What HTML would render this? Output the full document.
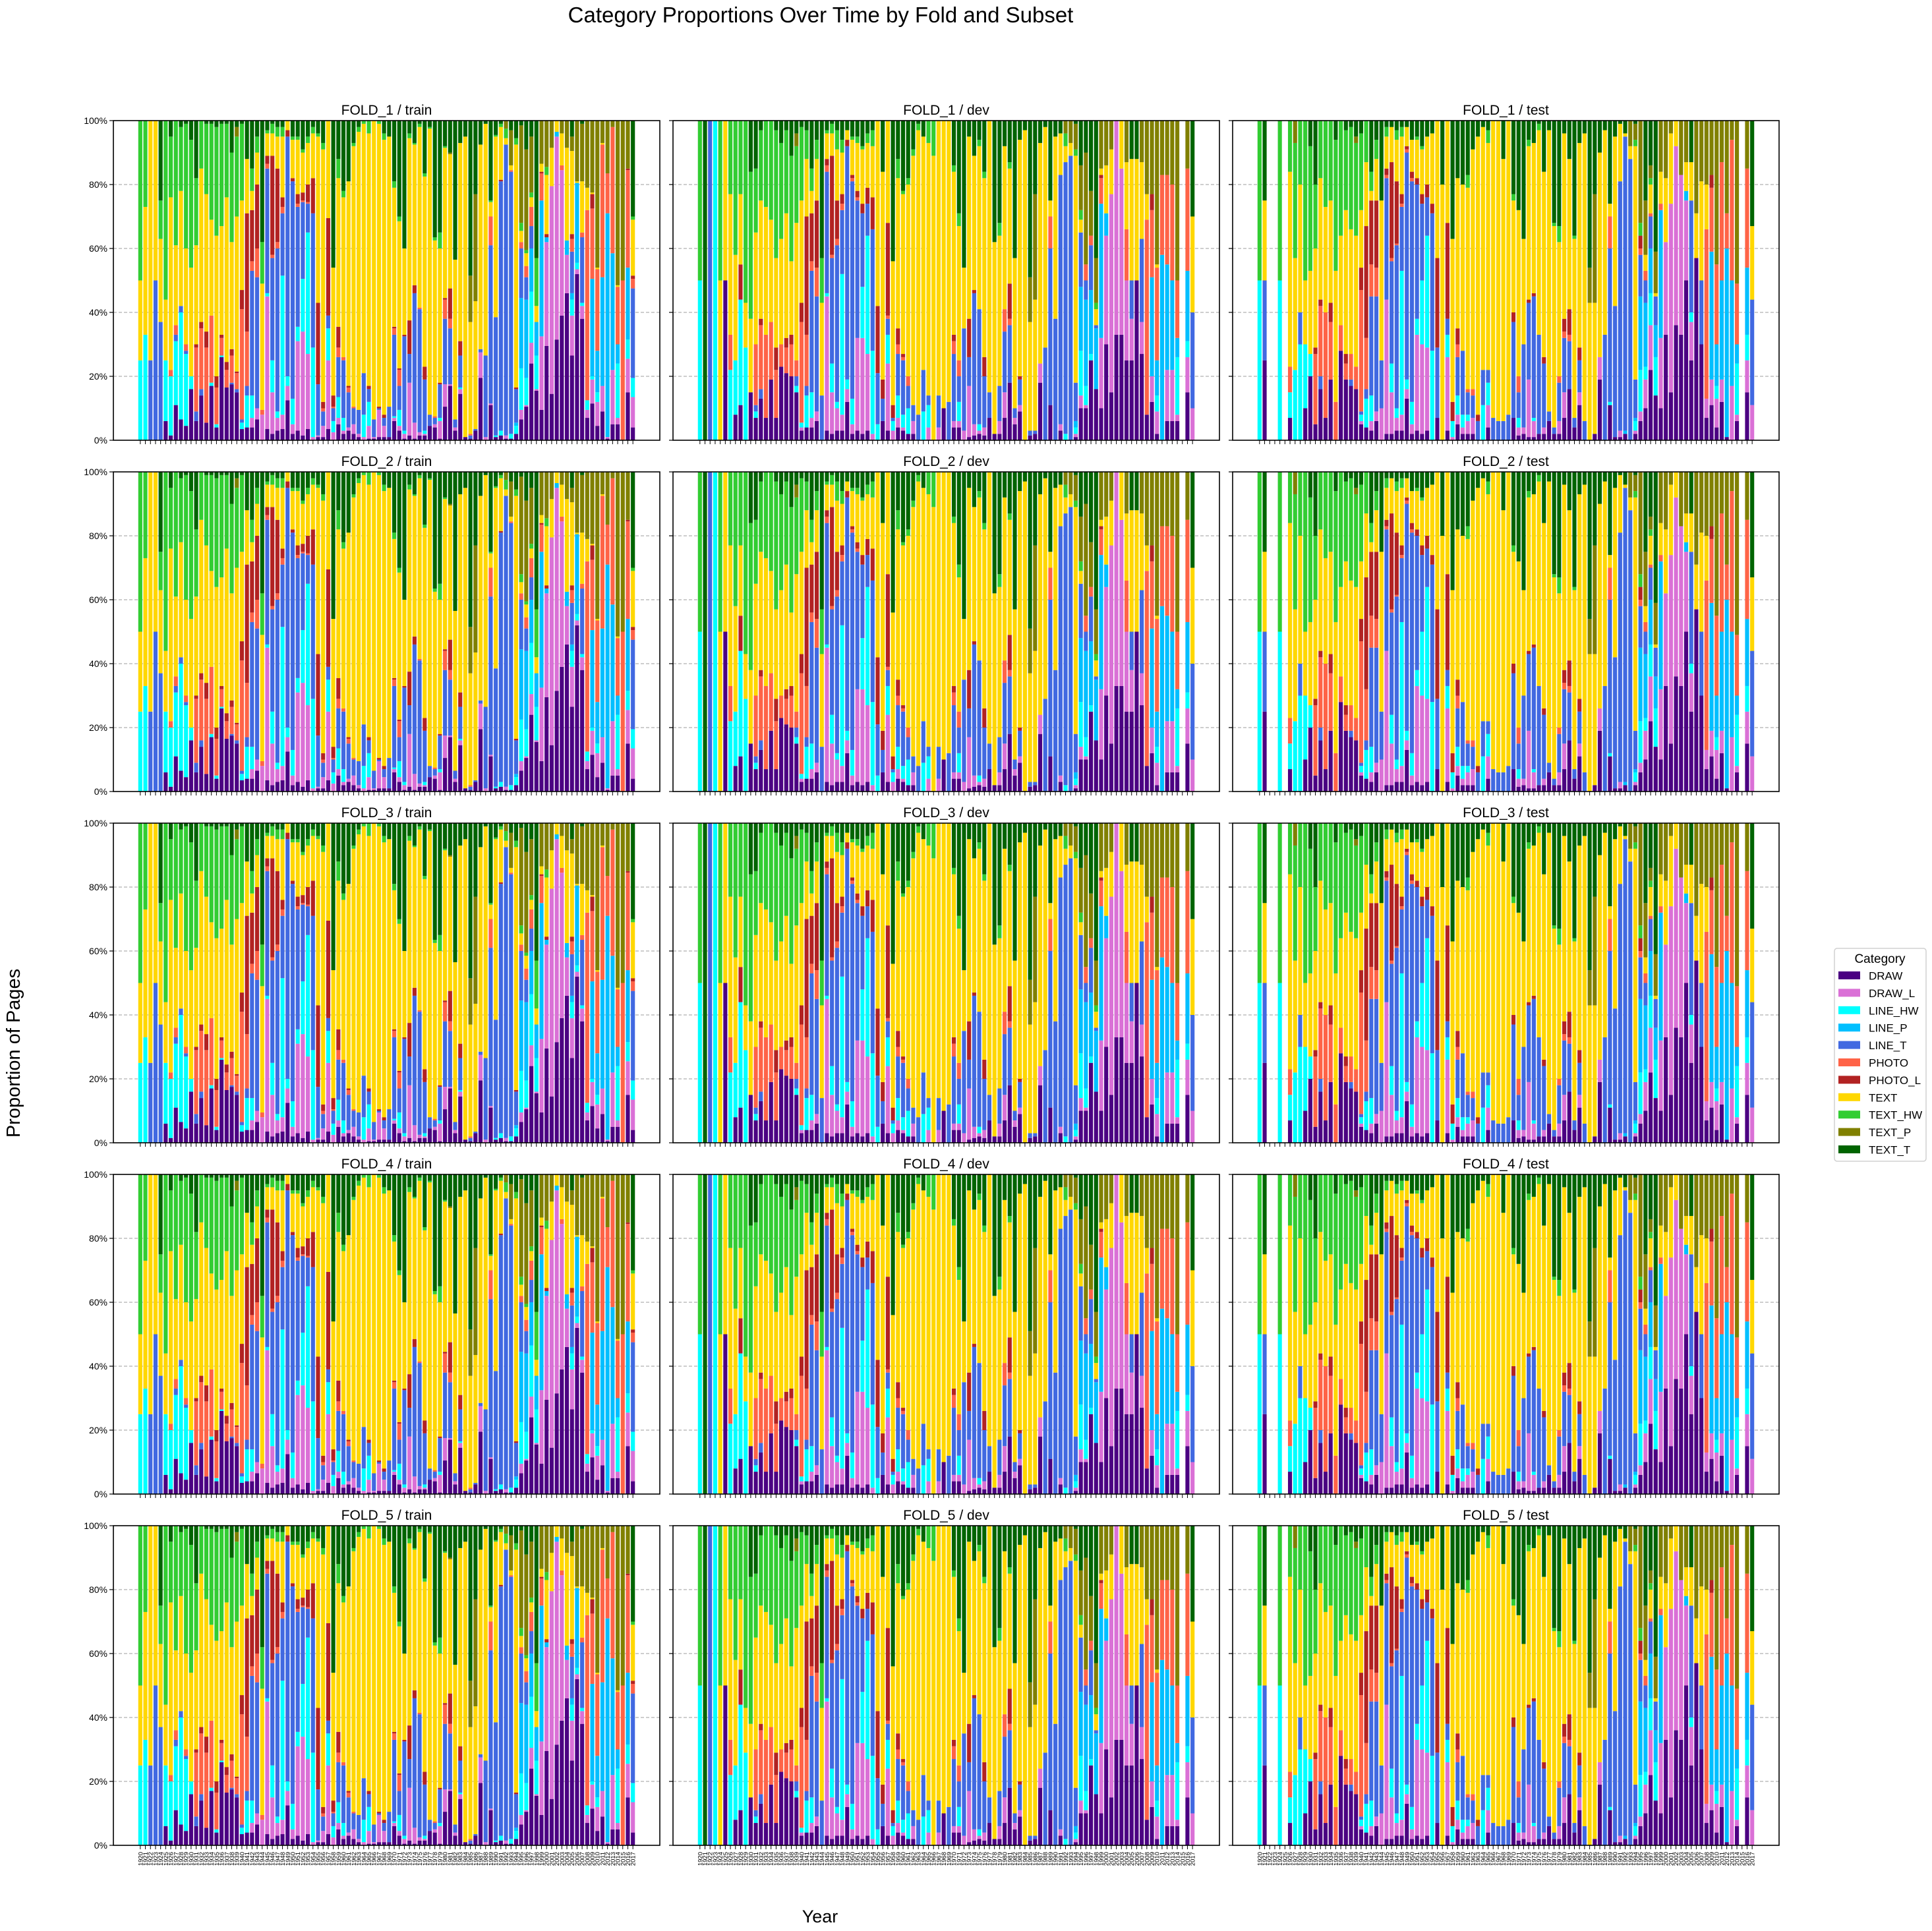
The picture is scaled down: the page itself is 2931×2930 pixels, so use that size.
<!DOCTYPE html>
<html><head><meta charset="utf-8">
<style>
html,body{margin:0;padding:0;background:#fff;}
svg{display:block;font-family:"Liberation Sans","DejaVu Sans",sans-serif;}
</style></head>
<body>
<svg id="fig" width="2931" height="2930" viewBox="0 0 2931 2930" xmlns="http://www.w3.org/2000/svg">
<rect width="2931" height="2930" fill="#fff"/>
<text x="1245" y="34" font-size="33" text-anchor="middle">Category Proportions Over Time by Fold and Subset</text>
<text transform="translate(30,1598) rotate(-90)" font-size="29" text-anchor="middle">Proportion of Pages</text>
<text x="1244" y="2917" font-size="27" text-anchor="middle">Year</text>
<g id="panels"></g>
<g id="legend"></g>
</svg>
<script>
const categories = ["DRAW","DRAW_L","LINE_HW","LINE_P","LINE_T","PHOTO","PHOTO_L","TEXT","TEXT_HW","TEXT_P","TEXT_T"];
const catCodes = ["D","L","C","P","B","R","Q","Y","H","O","T"];
const catColors = ["#4B0082","#DA70D6","#00FFFF","#00BFFF","#4169E1","#FF6347","#B22222","#FFD700","#32CD32","#808000","#006400"];
const years = []; for (let y = 1920; y <= 2017; y++) years.push(y);
const folds = ["FOLD_1","FOLD_2","FOLD_3","FOLD_4","FOLD_5"];
const subsets = ["train","dev","test"];
const yTicks = [0,20,40,60,80,100];
const yTickLabels = ["0%","20%","40%","60%","80%","100%"];

// cumulative stacked tops (percent) per year, in category order
const trainBars = ["C:25 Y:50 H:100","C:33 Y:73 H:100","B:25 Y:100","B:50 Y:100","B:37 Y:63 H:75 T:100","D:6 C:25 Y:44 H:100","D:1.5 C:20 R:22 Y:76 H:95 T:100","D:11 C:31 B:33 R:36 Y:61 H:100","D:6.5 C:40 B:42 Y:78 H:98 T:100","D:4.5 C:27 B:28 R:30 Y:60 H:99 T:100",
"D:16 C:20 Y:54 H:94 T:100","D:6 B:9 R:29 Q:30 Y:61 H:82 T:100","D:14 B:16 R:35 Q:37 Y:85 H:100","D:5.5 R:29 Q:34 Y:77 H:99 T:100","D:17 C:18 R:39 Y:69 H:99 T:100","D:4 C:5 R:16.5 Q:20 Y:64 H:98 T:100","D:26 C:26.5 R:32 Q:33 Y:67 H:99 T:100","D:16.5 R:22 Q:24.5 Y:76 H:99 T:100","D:17.5 B:18 R:26.5 Q:28.5 Y:62 H:90 T:100","D:15 B:16 R:21 Q:21.5 Y:70 H:95 O:98 T:100",
"D:3.5 C:5.5 B:6.5 R:41 Q:47 Y:75 H:99 T:100","D:4 C:14 B:17 R:34 Q:71 Y:88 T:100","D:4 L:7 C:14 B:53 R:56 Q:72 Y:78 H:85 T:100","D:6.5 L:10 B:51 R:60 Q:80 Y:90 H:95 T:100","L:8 R:9.5 Y:49 H:62 T:100","D:3.5 L:45 C:46 B:85 R:86.5 Q:89 Y:96 H:97 T:100","D:2 L:15 C:25 B:57 R:58 Q:89 Y:96 H:99 T:100","D:3 L:7 C:9 B:60 R:62 Q:85 Y:95 H:98 T:100","D:3.5 L:8 C:51.5 B:71 R:73 Q:76 Y:95 H:98 T:100","D:12.5 L:17 C:20 B:95 Q:97 Y:100",
"D:2 L:5 C:13 B:81 Q:82 Y:94 H:95 T:100","D:3 L:31 C:35.5 B:73 R:74 Q:77 Y:94 H:95 T:100","D:1.5 L:34 C:50.5 B:74.5 R:75 Q:77.5 Y:90 H:91 T:100","D:3.5 L:27 C:65 B:74 R:74.5 Q:80 Y:93 H:95 T:100","L:1 C:29 B:71 Q:82 Y:96 H:98 T:100","D:1 L:1.5 B:17.5 Q:43 Y:95 H:96 T:100","D:1 L:4.5 B:9 R:10 Q:12 Y:91 H:93 T:100","D:3.5 L:25 C:35 B:39 Q:69.5 Y:100","L:2.5 C:6 B:10 R:10.5 Q:14 Y:54 T:100","D:5 L:7 C:13.5 B:26 R:29 Q:35.5 Y:82 H:88 T:100",
"D:2 L:3 C:7 B:25 R:26 Y:76 H:78 T:100","D:3 L:4 B:15 R:16.5 Q:17 Y:81 T:100","D:2 L:5 B:10 R:10.5 Y:92 H:93 T:100","D:1 L:2 B:9.5 Y:96.5 H:98 T:100","L:1 C:8 B:21 Y:99 H:100","D:0.5 L:4.5 C:12 B:16 Q:17 Y:96 H:100","D:0.5 L:1 B:6.5 Y:100","D:1 L:9.5 B:10 Q:10.5 Y:99 H:100","D:1 L:4.5 B:7 Q:8 Y:94 H:96 T:100","D:1 B:10.5 Y:95 T:100",
"D:6 L:7 C:7.5 B:33 R:35 Q:35.5 Y:79 H:81 T:100","D:3 L:4.5 C:9.5 B:17 R:22 Q:22.5 Y:68.5 H:70 T:100","D:0.5 L:2 C:3 B:32.5 Q:33 Y:60 T:100","D:1.5 L:18 B:27 Q:37.5 Y:94.5 H:96 T:100","D:0.5 L:5.5 B:46 Q:48.5 Y:92.5 H:93 T:100","D:1.5 L:2.5 B:41 R:41.5 Y:98 H:99 T:100","D:1.5 L:2 C:3 B:19 Q:23 Y:82.5 H:83.5 T:100","D:4.5 B:8 Y:97.5 H:98 T:100","D:4 L:5 B:7 R:7.5 Y:62.5 H:63.5 T:100","D:0.5 L:6 C:7 B:17.5 Q:18 Y:60 H:65 T:100",
"D:10.5 L:17.5 B:38 R:44 Q:44.5 Y:91.5 H:92 T:100","D:17 L:17.5 B:35 R:38 Q:47.5 Y:89.5 O:90 T:100","D:3 L:4 B:6.5 Y:56.5 T:100","D:14.5 L:16 C:16.5 B:26.5 Q:31 Y:93 T:100","D:1 Y:95 T:100","D:0.5 B:1.5 R:2 Y:37 O:51.5 T:100","D:3 B:3.5 Y:43.5 O:77 T:100","D:19.5 L:27.5 B:28.5 Y:92.5 T:100","L:1 B:26.5 Y:99 T:100","D:11 L:11.5 B:61 R:70 Y:74.5 H:75 T:100",
"D:1 C:1.5 B:38.5 Y:95 H:95.5 T:100","D:1.5 C:3 B:81 Q:81.5 Y:98 H:99 T:100","D:0.5 L:1.5 B:92.5 Y:94.5 H:97.5 O:100","D:0.5 C:2 B:84 R:84.5 Y:86 O:97 T:100","D:2 C:4.5 P:5.5 B:16 Q:16.5 Y:92.5 H:94.5 T:100","D:6.5 L:9.5 C:22.5 P:44.5 B:60 R:62 Y:65.5 H:68 O:98.5 T:100","D:10.5 L:11 C:19.5 P:44 B:51 R:54.5 Y:58.5 H:59.5 O:91 T:100","D:24 L:30.5 C:46.5 P:60 B:67 R:73 Y:76 H:77.5 O:95 T:100","D:15.5 L:16 C:26.5 P:37 Y:42 H:57 T:100","D:9.5 L:32.5 P:75 R:83.5 Q:84 Y:86.5 O:100",
"D:29.5 L:62 P:63.5 Q:64.5 Y:83 H:85.5 O:100","D:14.5 L:79.5 Y:91.5 O:100","D:31.5 L:95 P:96.5 Y:100","D:39 L:84.5 R:86 Y:96 O:100","D:46 L:58 P:62.5 Y:91.5 O:100","D:26.5 L:39 C:44 P:46 B:59 R:63 Q:64.5 Y:90.5 O:95 T:100","D:52 L:53.5 C:55.5 P:80.5 Y:81 O:100","D:38 L:42 C:43 B:63.5 R:65 Y:81 O:99 T:100","D:7 L:9.5 C:12.5 R:72 Y:79 O:100","D:11.5 L:19 C:20 P:50.5 R:72.5 Q:77 Y:77.5 O:100",
"D:4.5 L:12 C:15 P:28 R:53.5 Y:54 O:100","D:9 L:17 P:51 R:92.5 Y:93 O:100","D:0.5 L:1 P:71 R:83.5 O:100","D:5 L:22 P:58.5 R:98 O:100","D:5 L:7 C:24 P:30 R:48 Y:48.5 O:100","R:50 O:100","D:15 L:25.5 C:31.5 P:54 R:84.5 Q:85 O:100","D:4 L:13.5 C:19.5 B:47.5 R:50.5 Q:51.5 Y:69 H:70 T:100"];

const devBars = ["C:50 H:100","T:100","B:100","C:100","Y:50 H:100","D:50 Y:100","C:22 R:33 Y:77 H:100","D:8 C:25 Y:58 H:100","D:11 C:44 Q:55 Y:77 H:100","C:29 Y:43 H:100",
"D:15 Y:38 H:84 T:100","D:7 C:9 B:11 R:30 Y:65 H:85 T:100","D:13 B:16 R:36 Q:38 Y:75 H:97 T:100","D:7 R:33 Y:73 H:100","D:19 R:37 Y:69 H:100","D:7 R:22 Q:29 Y:57 H:97 T:100","D:23 R:30 Y:63 H:93 T:100","D:21 R:29 Q:32 Y:71 H:97 T:100","D:20 R:30 Q:33 Y:56 H:89 T:100","D:15 C:17 B:20 R:25 Y:68 H:92 O:96 T:100",
"D:3 L:4 C:5.5 R:37 Q:43 Y:75 H:98 T:100","D:4 C:14 B:17 R:33 Q:70 Y:88 H:97 T:100","D:4 L:7 C:15 B:53 R:56 Q:71 Y:78 H:85 T:100","D:6 L:9 B:45 R:54 Q:75 Y:88 H:94 T:100","B:14 Y:43 H:57 T:100","D:3 L:45 C:46 B:84 R:86 Q:88 Y:96 H:97 T:100","D:2 L:15 C:24 B:57 R:58 Q:89 Y:96 H:99 T:100","D:3 L:10 C:12 B:61 R:63 Q:75 Y:91 H:97 T:100","D:3 L:8 C:52 B:72 R:74 Q:77 Y:90 H:94 T:100","D:12 L:16 C:19 B:92 Q:94 Y:97 T:100",
"D:2 L:5 C:13 B:81 R:82 Q:83 Y:94 H:95 T:100","D:3 L:32 B:75 R:76 Q:78 Y:93 H:95 T:100","D:2 L:32 C:48 B:71 Q:74 Y:91 H:92 T:100","D:3 L:27 C:64 B:74 Q:79 Y:93 H:96 T:100","L:2 C:28 B:66 Q:76 Y:92 H:97 T:100","C:5 B:21 Q:42 Y:100","D:6 B:13 Q:19 Y:84 T:100","D:3 L:24 C:33 B:38 R:39 Q:68 Y:100","L:3 C:6 B:7 Q:11 Y:56 T:100","D:4 L:7 C:14 B:27 R:30 Q:35 Y:82 H:88 T:100",
"D:3 L:4 C:8 B:25 R:26 Q:27 Y:77 H:78 T:100","D:2 C:10 B:17 R:20 Y:80 H:82 T:100","D:2 L:6 B:11 Y:89 H:91 T:100","B:8 Y:97 H:99 T:100","C:9 B:22 Y:95 T:100","L:4 C:11 B:14 Y:93 H:100","Y:89 H:100","L:4 B:14 Y:100","D:10 Y:100","B:12 Y:100",
"D:4 L:6 B:27 R:31 Q:33 Y:84 H:86 T:100","D:4 L:6 C:12 B:20 R:25 Y:67 H:71 T:100","L:3 B:35 Y:54 T:100","D:1 L:17 B:26 Q:38 Y:95 T:100","D:1.5 L:5 B:46 Q:47 Y:89 T:100","D:2 L:3 C:5 B:41 Y:92 H:94 T:100","D:1.5 L:4 B:20 Q:26 Y:82 H:84 T:100","D:7 B:15 Y:100","D:2 Y:62 T:100","D:2 L:6 B:17 Y:64 H:68 T:100",
"D:7 L:15 B:34 R:41 Y:92 T:100","D:18 B:36 R:38 Q:49 Y:85 H:87 T:100","D:5 L:7 B:10 Y:57 T:100","D:9 L:11 B:19 Q:20 Y:94 T:100","Y:97 T:100","D:1.5 B:3 Y:37 O:51 T:100","D:2 B:3 Y:44 O:77 T:100","D:18 L:24 Y:93 T:100","B:29 Y:98 T:100","D:11 B:60 R:70 Y:75 T:100",
"B:38 Y:95 T:100","D:3 L:5 B:83 Y:96 T:100","C:2 B:87 Y:92 H:96 O:100","B:89 Y:93 O:100","D:1 L:2 C:4 P:6 B:18 Y:89 H:91 O:99 T:100","D:10 L:14 C:28 P:48 B:65 Y:69 H:72 O:86 T:100","D:10 L:11 C:17 P:44 B:50 R:55 O:90 T:100","D:25 C:27 P:47 B:61 R:64 O:78 T:100","D:16 P:35 B:36 Y:41 H:43 O:57 T:100","D:10 L:32 P:74 R:82 Q:83 Y:85 O:100",
"D:30 L:64 P:71 Y:86 O:100","D:15 L:77 Y:91 O:100","D:33 L:100","D:33 L:85 Y:100","D:25 L:50 R:66 Y:87 O:100","D:25 L:38 B:50 Y:88 T:100","D:50 Y:88 T:100","D:27 L:37 B:63 Y:87 O:100","D:8 R:69 Y:77 O:100","D:12 L:20 P:51 R:72 Q:77 O:100",
"D:2 L:9 C:14 P:25 R:54 Y:55 O:100","P:58 R:83 O:100","D:6 L:22 P:55 R:83 O:100","D:6 L:22 P:50 R:80 O:100","D:6 L:8 C:26 P:32 R:50 O:100","","D:15 L:26 C:31 P:53 R:85 O:100","L:10 B:40 Y:70 T:100"];

const testBars = ["C:50 H:100","D:25 B:50 Y:75 T:100","","","C:50 H:100","","D:7 C:15 R:23 Y:84 H:100","C:22 Y:57 H:93 O:100","C:30 B:40 Y:80 H:100","D:10 C:30 Y:50 H:100",
"D:20 C:27 Y:53 H:92 T:100","D:5 R:27 Q:29 Y:60 H:80 T:100","D:16 B:20 R:42 Q:44 Y:82 H:100","D:7 R:40 Y:73 H:100","D:19 R:37 Q:43 Y:75 H:100","R:12 Y:53 H:94 T:100","D:28 R:36 Y:64 H:100","D:19 R:24 Q:27 Y:72 H:97 T:100","D:17 B:19 R:27 Y:66 H:98 T:100","D:16 R:23 Y:64 H:93 O:95 T:100",
"D:5 L:6 C:8 B:9 R:47 Q:54 Y:72 H:96 T:100","D:4 C:13 B:16 R:32 Q:67 Y:87 H:100","D:3 L:6 C:14 B:45 R:55 Q:75 Y:78 H:84 T:100","D:6 L:9 B:45 R:54 Q:75 Y:88 H:94 T:100","L:10 B:25 Y:75 T:100","D:2 L:44 B:82 R:83 Q:85 Y:95 H:98 T:100","D:2 L:15 C:24 B:56 R:57 Q:87 Y:98 T:100","D:3 L:7 C:10 B:61 R:61.5 Q:81 Y:94 H:97 T:100","D:3 L:8 C:53 B:73 R:74 Q:77 Y:95 H:98 T:100","D:13 L:16 C:19 B:90 R:91 Q:92 Y:98 T:100",
"D:2 L:5 C:12 B:81 R:82 Q:84 Y:94 T:100","D:3 L:33 C:38 B:80 Q:82 Y:94 H:95 T:100","D:2 L:30 C:50 B:74 Q:77 Y:91 H:92 T:100","D:3 L:29 C:64 B:76 Q:80 Y:95 T:100","C:28 B:71 Q:74 Y:96 T:100","D:7 B:29 Q:57 Y:100","Y:80 T:100","D:3 L:26 C:33 B:38 Q:68 Y:100","L:1 C:6 Q:12 Y:63 T:100","D:5 L:8 C:14 B:26 R:30 Q:35 Y:82 T:100",
"D:2 L:4 C:8 B:28 Y:80 T:100","D:2 L:6 C:8 B:15 R:16 Y:79 H:83 T:100","D:2 L:7 B:14 R:16 Y:91 T:100","B:6 Q:8 Y:95 T:100","C:11 B:22 Y:98 T:100","D:4 L:11 C:18 B:22 Y:93 H:97 T:100","B:7 Y:100","B:6 Y:100","B:6 Y:88 T:100","B:8 Y:100",
"D:7 B:37 Q:40 Y:75 H:77 T:100","D:1.5 L:4 C:7 B:15 R:20 Y:72 T:100","D:2 L:4 B:30 Y:63 T:100","D:1 L:19 B:43 Q:44 Y:92 H:94 T:100","D:1 L:6 C:7 B:45 Q:46 Y:93 T:100","D:2 B:33 Y:97 H:99 T:100","D:2 L:4 B:24 Q:26 Y:84 T:100","D:6 B:9 Y:97 T:100","D:2 B:4 Y:67 H:68 T:100","D:2 L:6 B:18 R:20 Y:62 H:67 T:100",
"D:7 L:15 B:32 R:34 Q:38 Y:96 T:100","D:16 B:31 R:33 Q:41 Y:88 T:100","D:4 B:7 Y:63 H:64 T:100","D:11 L:15 B:25 Q:29 Y:93 T:100","B:6 Y:96 T:100","Y:43 O:54 T:100","D:2 Y:43 O:77 T:100","D:19 L:26 Y:90 T:100","B:33 Y:97 T:100","D:11 C:12 B:60 R:70 Y:74 T:100",
"D:1 B:42 Y:95 T:100","D:1 L:3 B:81 Y:99 T:100","D:2 P:3 B:95 Y:96 T:100","B:88 Y:92 O:100","D:2 L:3 C:6 P:7 B:19 Y:92 H:94 O:99 T:100","D:6 L:9 C:22 P:45 B:58 R:60 Q:64 H:68 O:100","D:10 L:19 C:23 P:43 B:50 R:53 Y:58 O:75 T:100","D:22 L:36 C:46 P:60 B:70 R:71 Y:80 H:82 O:86 T:100","D:14 C:26 P:36 B:45 Y:46 O:59 T:100","D:10 L:32 P:72 R:74 Y:84 O:100",
"D:33 L:62 Y:82 O:100","D:15 L:74 Y:96 O:100","D:36 L:92 Y:100","D:33 L:83 O:100","D:50 L:75 P:78 Y:87 O:100","D:25 L:37 C:40 B:75 Y:87 T:100","D:57 Y:71 O:100","D:30 B:50 Y:81 O:100","D:7 L:13 R:66 Y:80 O:100","D:11 L:19 P:59 R:79 Q:83 O:100",
"D:4 L:13 C:17 P:30 R:55 O:100","D:12 L:19 P:50 R:87 O:100","D:1 P:60 R:71 O:100","L:17 P:50 R:94 O:100","D:6 L:8 C:24 P:30 R:49 O:100","","D:15 L:25 C:33 P:54 R:85 O:100","L:11 B:44 Y:67 T:100"];

const subsetData = {train: trainBars, dev: devBars, test: testBars};

const NS = "http://www.w3.org/2000/svg";
const colLeft = [172, 1021, 1870];
const axW = 829, axH = 485;
const rowTop = [183, 716, 1249, 1782, 2315];
const xMin = -5.3, xMax = 102.3;

function mk(tag, attrs, parent) {
  const e = document.createElementNS(NS, tag);
  for (const k in attrs) e.setAttribute(k, attrs[k]);
  if (parent) parent.appendChild(e);
  return e;
}
function parseBar(s) {
  const vals = new Array(categories.length).fill(0);
  if (!s) return vals;
  let prev = 0;
  s.split(" ").forEach(tok => {
    const [c, v] = tok.split(":");
    const top = parseFloat(v);
    const idx = catCodes.indexOf(c);
    vals[idx] = Math.max(0, top - prev);
    prev = Math.max(prev, top);
  });
  return vals;
}

const panels = document.getElementById("panels");
folds.forEach((fold, r) => {
  subsets.forEach((sub, c) => {
    const L = colLeft[c], T = rowTop[r];
    const xs = i => L + (i - xMin) / (xMax - xMin) * axW;
    const ys = p => T + axH - p / 100 * axH;
    const bw = 0.8 * axW / (xMax - xMin);
    const g = mk("g", {}, panels);
    
    
    const title = mk("text", {x: L + axW/2, y: T - 9, "font-size": 21, "text-anchor": "middle"}, g);
    title.textContent = fold + " / " + sub;
    
    
    // grid
    yTicks.forEach((t, k) => {
      if (t > 0 && t < 100) {
        const gl = mk("line", {x1: L, x2: L + axW, y1: ys(t), y2: ys(t), stroke: "#b0b0b0", "stroke-width": 1.3, "stroke-dasharray": "5,3"}, g);
        
        
      }
      mk("line", {x1: L - 6, x2: L, y1: ys(t), y2: ys(t), stroke: "#000", "stroke-width": 1.2}, g);
      if (c === 0) {
        const tl = mk("text", {x: L - 9, y: ys(t) + 5, "font-size": 14, "text-anchor": "end"}, g);
        tl.textContent = yTickLabels[k];
        
        
      }
    });
    // bars
    const bars = subsetData[sub];
    years.forEach((yr, i) => {
      const vals = parseBar(bars[i]);
      let acc = 0;
      vals.forEach((v, k) => {
        if (v <= 0) return;
        const rect = mk("rect", {x: xs(i) - bw/2, y: ys(acc + v), width: bw, height: ys(acc) - ys(acc + v), fill: catColors[k]}, g);
        
        
        acc += v;
      });
      mk("line", {x1: xs(i), x2: xs(i), y1: T + axH, y2: T + axH + 6, stroke: "#000", "stroke-width": 1}, g);
      if (r === folds.length - 1) {
        const xl = mk("text", {transform: "translate(" + (xs(i) + 3.5) + "," + (T + axH + 10) + ") rotate(-90)", "font-size": 9.5, "text-anchor": "end"}, g);
        xl.textContent = yr;
        
        
      }
    });
    const frame = mk("rect", {x: L, y: T, width: axW, height: axH, fill: "none", stroke: "#000", "stroke-width": 1.6}, g);
    
    
  });
});

// legend
const lg = document.getElementById("legend");


mk("rect", {x: 2783, y: 1439, width: 139, height: 323, rx: 4, fill: "#fff", stroke: "#d0d0d0", "stroke-width": 1.5}, lg);
const lt = mk("text", {x: 2852, y: 1461, "font-size": 19, "text-anchor": "middle"}, lg);
lt.textContent = "Category";


categories.forEach((cat, k) => {
  const cy = 1480 + k * 26.4;
  const eg = mk("g", {}, lg);
  
  
  mk("rect", {x: 2789, y: cy - 6, width: 33, height: 12, fill: catColors[k]}, eg);
  const tx = mk("text", {x: 2835, y: cy + 6.5, "font-size": 17}, eg);
  tx.textContent = cat;
});
</script>
</body></html>
